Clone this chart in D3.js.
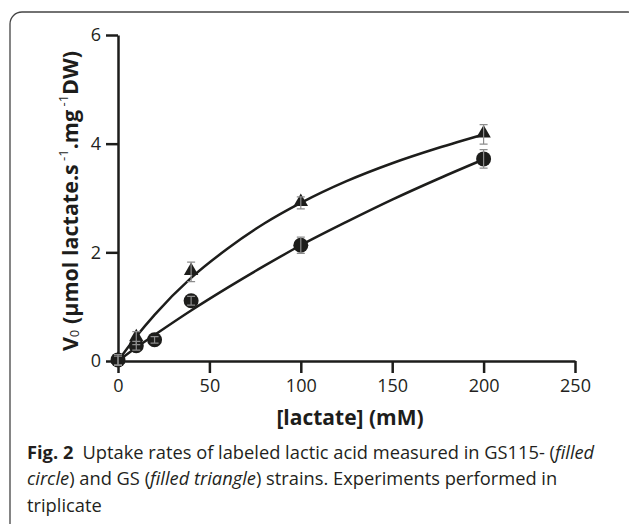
<!DOCTYPE html>
<html>
<head>
<meta charset="utf-8">
<script src="https://cdn.jsdelivr.net/npm/d3@7"></script>
<style>
  body { margin: 0; background: #fff; }
  svg { display: block; font-family: "Open Sans", sans-serif; }
  .axis path, .axis line { stroke: #1d1d1b; stroke-width: 2.5; }
  .axis text { font-size: 18px; fill: #231f20; font-family: "Open Sans", sans-serif; }
</style>
</head>
<body>
<div id="chart"></div>
<script>
// GS115 strain (filled circle)
var concGS115 = [0, 10, 20, 40, 100, 200];
var rateGS115 = [0.02, 0.28, 0.39, 1.11, 2.13, 3.72];
var errGS115 = [0.1, 0.08, 0.06, 0.08, 0.15, 0.17];
// GS strain (filled triangle)
var concGS = [0, 10, 40, 100, 200];
var rateGS = [0.01, 0.42, 1.64, 2.91, 4.17];
var errGS = [0.08, 0.12, 0.18, 0.11, 0.18];
// fitted curves
var fitConc = [0, 10, 20, 40, 60, 80, 100, 125, 150, 175, 200];
var fitGS115 = [0, 0.25, 0.48, 0.93, 1.35, 1.75, 2.13, 2.56, 2.97, 3.35, 3.71];
var fitGS = [0, 0.45, 0.85, 1.53, 2.07, 2.53, 2.91, 3.31, 3.64, 3.92, 4.17];
var xTicks = [0, 50, 100, 150, 200, 250];
var yTicks = [0, 2, 4, 6];

(function() {
  var W = 629, H = 524, ink = '#1d1d1b';
  var svg = d3.select('#chart').append('svg').attr('width', W).attr('height', H);

  // figure frame
  svg.append('rect').attr('x', 10).attr('y', 12).attr('width', 630).attr('height', 530)
    .attr('rx', 12).attr('fill', 'none').attr('stroke', '#444').attr('stroke-width', 1.3);

  var x = d3.scaleLinear().domain([0, 250]).range([118, 575]);
  var y = d3.scaleLinear().domain([0, 6]).range([361, 35]);

  var xAxis = d3.axisBottom(x).tickValues(xTicks).tickSize(12).tickSizeOuter(0).tickPadding(6)
    .tickFormat(d3.format('d'));
  var yAxis = d3.axisLeft(y).tickValues(yTicks).tickSize(12).tickSizeOuter(0).tickPadding(5)
    .tickFormat(d3.format('d'));

  svg.append('g').attr('class', 'x axis').attr('transform', 'translate(0,361)').call(xAxis);
  svg.append('g').attr('class', 'y axis').attr('transform', 'translate(118,0)').call(yAxis);

  // fitted curves
  var line = d3.line()
    .x(function(d) { return x(d[0]); })
    .y(function(d) { return y(d[1]); })
    .curve(d3.curveMonotoneX);
  [fitGS115, fitGS].forEach(function(vals) {
    svg.append('path')
      .datum(fitConc.map(function(c, i) { return [c, vals[i]]; }))
      .attr('d', line).attr('fill', 'none').attr('stroke', ink).attr('stroke-width', 2.5);
  });

  // markers
  var circles = concGS115.map(function(c, i) { return { c: c, v: rateGS115[i], e: errGS115[i] }; });
  var tris = concGS.map(function(c, i) { return { c: c, v: rateGS[i], e: errGS[i] }; });

  svg.selectAll('path.tri').data(tris).enter().append('path').attr('class', 'tri')
    .attr('d', d3.symbol().type(d3.symbolTriangle).size(90))
    .attr('transform', function(d) { return 'translate(' + x(d.c) + ',' + (y(d.v) - 1) + ')'; })
    .attr('fill', ink);
  svg.selectAll('circle.dot').data(circles).enter().append('circle').attr('class', 'dot')
    .attr('cx', function(d) { return x(d.c); })
    .attr('cy', function(d) { return y(d.v); })
    .attr('r', 7.5).attr('fill', ink);

  // error bars on top
  var bars = svg.append('g').attr('stroke', '#8c8c8c').attr('stroke-width', 1.2).attr('fill', 'none');
  circles.concat(tris).forEach(function(d) {
    var cx = x(d.c), t = y(d.v + d.e), b = y(d.v - d.e);
    bars.append('path').attr('d', 'M' + cx + ',' + t + 'V' + b +
      'M' + (cx - 4) + ',' + t + 'H' + (cx + 4) + 'M' + (cx - 4) + ',' + b + 'H' + (cx + 4));
  });

  // axis titles
  var yt = svg.append('text').attr('transform', 'translate(78,201) rotate(-90)')
    .attr('text-anchor', 'middle').attr('font-size', 21.5).attr('font-weight', 700).attr('fill', ink);
  yt.append('tspan').text('V');
  yt.append('tspan').attr('font-size', 13).attr('font-weight', 400).attr('dy', 1).text('0');
  yt.append('tspan').attr('dy', -1).text(' (μmol lactate.s');
  yt.append('tspan').attr('font-size', 13).attr('font-weight', 400).attr('dy', -10).text(' -1');
  yt.append('tspan').attr('dy', 10).text('.mg');
  yt.append('tspan').attr('font-size', 13).attr('font-weight', 400).attr('dy', -10).text(' -1');
  yt.append('tspan').attr('dy', 10).text('DW)');

  svg.append('text').attr('x', 350).attr('y', 425).attr('text-anchor', 'middle')
    .attr('font-size', 21).attr('font-weight', 700).attr('fill', ink).text('[lactate] (mM)');

  // caption
  var cap = svg.append('g').attr('font-size', 18.3).attr('fill', '#231f20');
  var l1 = cap.append('text').attr('x', 27).attr('y', 459);
  l1.append('tspan').attr('font-weight', 700).text('Fig. 2');
  l1.append('tspan').text('\u2002Uptake rates of labeled lactic acid measured in GS115- (');
  l1.append('tspan').attr('font-style', 'italic').text('filled');
  var l2 = cap.append('text').attr('x', 27).attr('y', 485);
  l2.append('tspan').attr('font-style', 'italic').text('circle');
  l2.append('tspan').text(') and GS (');
  l2.append('tspan').attr('font-style', 'italic').text('filled triangle');
  l2.append('tspan').text(') strains. Experiments performed in');
  cap.append('text').attr('x', 27).attr('y', 512).text('triplicate');
})();
</script>
</body>
</html>
